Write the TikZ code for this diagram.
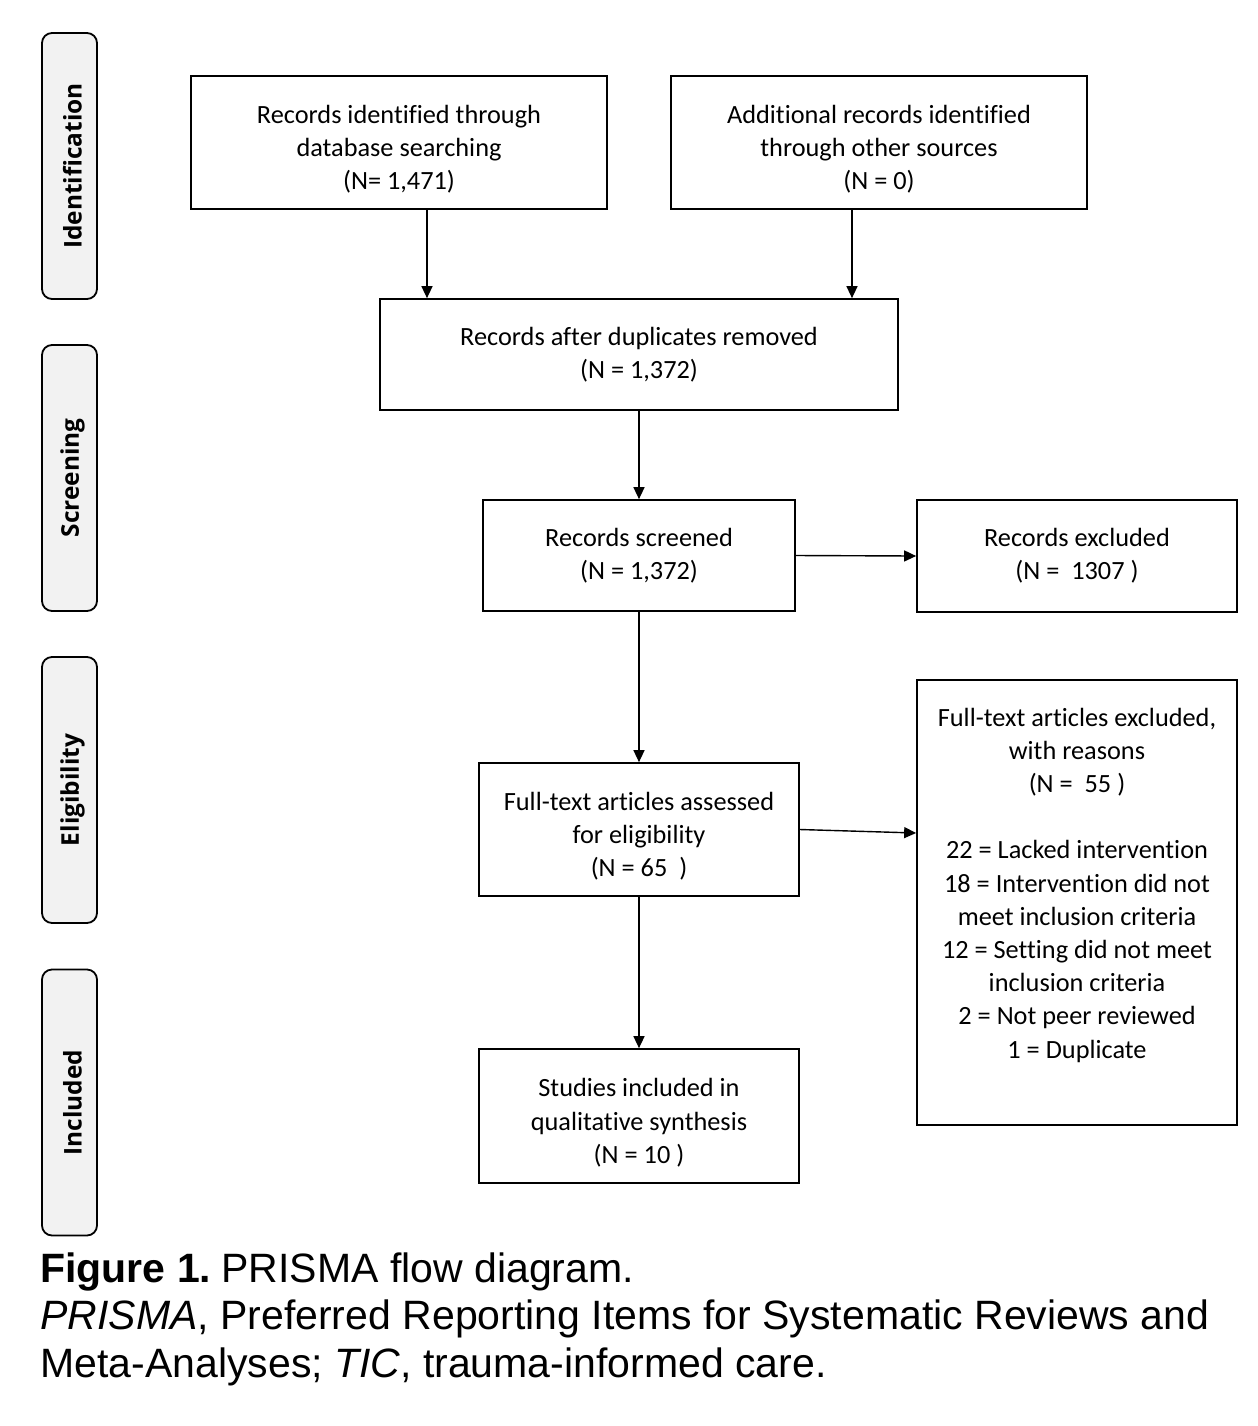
\documentclass[tikz,border=0pt]{standalone}
\usepackage{fontspec}
\setmainfont[Ligatures=NoCommon]{Carlito}
\newfontfamily\capfont{Liberation Sans}
\newfontfamily\sidefont{Open Sans}
\usetikzlibrary{arrows.meta}
\definecolor{sidegray}{HTML}{F2F2F2}
\newcommand{\lowstrut}{\rule{0pt}{16pt}}
\begin{document}
\begin{tikzpicture}[x=0.5pt,y=-0.5pt,
  box/.style={draw=black,line width=0.85pt,fill=white,inner sep=0pt,align=center,
    font=\fontsize{13.15}{16.6}\selectfont},
  side/.style={draw=black,line width=0.9pt,fill=sidegray,rounded corners=5pt,
    minimum width=27.5pt,minimum height=133pt,inner sep=0pt},
  sidetext/.style={rotate=90,font=\sidefont\bfseries\fontsize{12.2}{14}\selectfont},
  arr/.style={draw=black,line width=0.7pt,-{Triangle[length=6pt,width=5.5pt]}},
  captext/.style={anchor=base west,inner sep=0pt,font=\capfont\fontsize{20.5}{24}\selectfont}
]
\useasboundingbox (0,0) rectangle (1258,1426);

% side labels
\node[side] (s1) at (69.5,166) {};
\node[sidetext] (t1) at ([xshift=1.5pt]s1.center) {Identification};
\node[side] (s2) at (69.5,478) {};
\node[sidetext] (t2) at ([xshift=1.5pt]s2.center) {Screening};
\node[side] (s3) at (69.5,790) {};
\node[sidetext] (t3) at ([xshift=1.5pt]s3.center) {Eligibility};
\node[side] (s4) at (69.5,1102.5) {};
\node[sidetext] (t4) at ([xshift=1.5pt]s4.center) {Included};

% boxes
\node[box,minimum width=208pt,minimum height=66.5pt] (A) at (399,142.5)
  {\lowstrut Records identified through\\database searching\\(N= 1,471)};
\node[box,minimum width=208pt,minimum height=66.5pt] (B) at (879,142.5)
  {\lowstrut Additional records identified\\through other sources\\(N = 0)};
\node[box,minimum width=259pt,minimum height=55.5pt] (C) at (639,354.5)
  {Records after duplicates removed\\(N = 1,372)};
\node[box,minimum width=156pt,minimum height=55.5pt] (D) at (639,555.5)
  {Records screened\\(N = 1,372)};
\node[box,minimum width=160pt,minimum height=56pt] (E) at (1077,556)
  {Records excluded\\(N =\ \ 1307 )};
\node[box,minimum width=160pt,minimum height=66.5pt] (F) at (639,829.5)
  {\lowstrut Full-text articles assessed\\for eligibility\\(N = 65\ \ )};
\node[box,minimum width=160pt,minimum height=222.5pt] (G) at (1077,902.5) {};
\node[align=center,inner sep=0pt,font=\fontsize{13.15}{16.6}\selectfont] (Gt) at (1077,885)
  {Full-text articles excluded,\\with reasons\\(N =\ \ 55 )\\[16.6pt]
   22 = Lacked intervention\\18 = Intervention did not\\meet inclusion criteria\\
   12 = Setting did not meet\\inclusion criteria\\2 = Not peer reviewed\\1 = Duplicate};
\node[box,minimum width=160pt,minimum height=67pt] (H) at (639,1116)
  {\lowstrut Studies included in\\qualitative synthesis\\(N = 10 )};

% connectors
\draw[arr] ([xshift=14pt]A.south) -- ([xshift=14pt]A.south |- C.north);
\draw[arr] ([xshift=-13.5pt]B.south) -- ([xshift=-13.5pt]B.south |- C.north);
\draw[arr] (C.south) -- (D.north);
\draw[arr] (D.east) -- (E.west);
\draw[arr] (D.south) -- (F.north);
\draw[arr] (F.east) -- ([yshift=34.75pt]G.west);
\draw[arr] (F.south) -- (H.north);

% caption
\node[captext] (cap1) at (40,1282) {\textbf{Figure 1.}\hspace{0.25em}PRISMA flow diagram.};
\node[captext] (cap2) at (40,1329) {\textit{PRISMA}, Preferred Reporting Items for Systematic Reviews and};
\node[captext] (cap3) at (40,1377) {Meta-Analyses; \textit{TIC}, trauma-informed care.};
\end{tikzpicture}
\end{document}
